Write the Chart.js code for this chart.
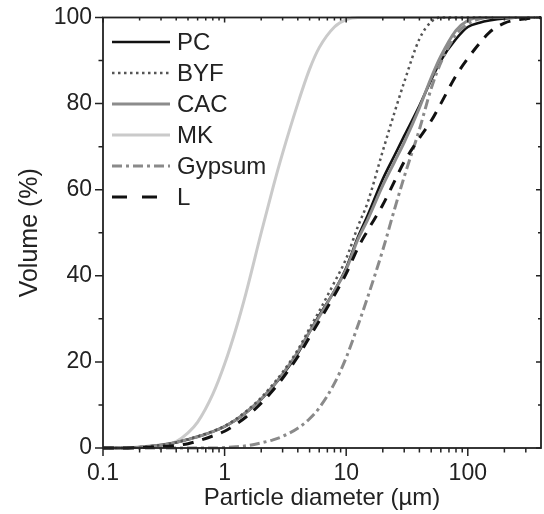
<!DOCTYPE html>
<html>
<head>
<meta charset="utf-8">
<script src="https://cdn.jsdelivr.net/npm/chart.js@4/dist/chart.umd.min.js"></script>
<style>
  html, body { margin: 0; padding: 0; background: #fff; }
  #wrap { width: 544px; height: 514px; }
</style>
</head>
<body>
<div id="wrap"><canvas id="psd"></canvas></div>
<script>
// particle diameter in um (x) and cumulative volume in % (y)
const sizes  = [0.1, 0.15, 0.2, 0.3, 0.4, 0.5, 0.6, 0.8, 1, 1.25, 1.5, 2, 2.5, 3, 4, 5, 6, 8, 10, 12.5, 15, 20, 25, 30, 40, 50, 60, 80, 100, 125, 150, 200, 300, 400];
const pc     = [0, 0, 0.2, 0.7, 1.3, 2.0, 2.6, 3.8, 5.0, 6.6, 8.2, 11.3, 14.3, 17.0, 22.0, 27.0, 30.8, 36.5, 41.8, 49.0, 54.0, 62.5, 68.0, 72.5, 79.5, 85.5, 90.0, 95.0, 97.8, 98.8, 99.3, 99.8, 100, 100];
const byf    = [0, 0, 0.2, 0.7, 1.3, 2.0, 2.7, 3.9, 5.1, 6.8, 8.5, 11.7, 14.8, 17.6, 22.8, 27.8, 31.8, 38.5, 44.0, 51.5, 57.0, 69.0, 78.0, 85.0, 95.0, 99.0, 100, 100, 100, 100, 100, 100, 100, 100];
const cac    = [0, 0, 0.2, 0.7, 1.3, 2.0, 2.6, 3.8, 5.0, 6.6, 8.3, 11.4, 14.4, 17.2, 22.3, 27.0, 30.5, 36.5, 41.5, 48.5, 53.0, 61.0, 66.5, 71.0, 79.0, 86.0, 91.0, 97.0, 99.3, 100, 100, 100, 100, 100];
const mk     = [0, 0, 0.1, 0.5, 1.5, 3.5, 6.0, 12.5, 19.5, 28.0, 36.0, 50.0, 60.5, 68.5, 80.0, 88.0, 93.0, 97.8, 99.5, 100, 100, 100, 100, 100, 100, 100, 100, 100, 100, 100, 100, 100, 100, 100];
const gypsum = [0, 0, 0, 0, 0, 0, 0, 0, 0.1, 0.3, 0.5, 1.2, 1.9, 2.7, 4.6, 6.8, 9.3, 15.0, 21.0, 28.5, 35.0, 46.0, 55.5, 63.0, 74.0, 83.5, 89.5, 96.0, 98.5, 99.7, 100, 100, 100, 100];
const lime   = [0, 0, 0.1, 0.3, 0.6, 1.0, 1.6, 2.8, 3.9, 5.6, 7.2, 10.4, 13.4, 16.2, 21.2, 25.8, 29.5, 35.5, 40.5, 46.5, 50.5, 56.5, 62.0, 66.5, 72.0, 76.0, 80.0, 86.5, 90.5, 94.0, 96.5, 98.7, 99.7, 100];

const seriesNames = ['PC', 'BYF', 'CAC', 'MK', 'Gypsum', 'L'];
const xMajor = [0.1, 1, 10, 100];
const xMinor = [0.2, 0.3, 0.4, 0.5, 0.6, 0.7, 0.8, 0.9, 2, 3, 4, 5, 6, 7, 8, 9, 20, 30, 40, 50, 60, 70, 80, 90, 200, 300];
const yMajor = [0, 20, 40, 60, 80, 100];
const yMinor = [10, 30, 50, 70, 90];

const FONT = "'Liberation Sans', Arial, Helvetica, sans-serif";
const INK = '#222';

function pts(vals) {
    return sizes.map((s, i) => ({ x: s, y: vals[i] }));
}

function ds(label, vals, color, width, dash, order) {
    return {
        label: label,
        data: pts(vals),
        borderColor: color,
        borderWidth: width,
        borderDash: dash,
        pointRadius: 0,
        showLine: true,
        fill: false,
        cubicInterpolationMode: 'monotone',
        clip: false,
        order: order
    };
}

const datasets = [
    ds(seriesNames[0], pc, '#111111', 2.6, [], 4),
    ds(seriesNames[1], byf, '#555555', 2.5, [2.5, 3.5], 2),
    ds(seriesNames[2], cac, '#8c8c8c', 3, [], 3),
    ds(seriesNames[3], mk, '#cacaca', 3, [], 5),
    ds(seriesNames[4], gypsum, '#8a8a8a', 3, [10, 4, 3, 4], 1),
    ds(seriesNames[5], lime, '#111111', 3, [11, 9], 0)
];

// frame + ticks drawn by hand so minor ticks can be shorter (top/right ones point inward)
const framePlugin = {
    id: 'frame',
    afterDraw(chart) {
        const ctx = chart.ctx;
        const a = chart.chartArea;
        const xs = chart.scales.x, ys = chart.scales.y;
        ctx.save();
        ctx.strokeStyle = INK;
        ctx.lineWidth = 1.8;
        ctx.strokeRect(a.left, a.top, a.right - a.left, a.bottom - a.top);
        ctx.lineWidth = 1.5;
        ctx.beginPath();
        xMajor.concat(xMinor).forEach(v => {
            const px = xs.getPixelForValue(v);
            const big = xMajor.includes(v);
            ctx.moveTo(px, a.bottom); ctx.lineTo(px, a.bottom + (big ? 8 : 4.5));
            ctx.moveTo(px, a.top); ctx.lineTo(px, a.top + (big ? 5 : 3));
        });
        yMajor.concat(yMinor).forEach(v => {
            const py = ys.getPixelForValue(v);
            const big = yMajor.includes(v);
            ctx.moveTo(a.left, py); ctx.lineTo(a.left - (big ? 8 : 4.5), py);
            ctx.moveTo(a.right, py); ctx.lineTo(a.right - (big ? 5 : 3), py);
        });
        ctx.stroke();
        ctx.restore();
    }
};

// legend in the upper left corner of the plot
const legendPlugin = {
    id: 'cornerLegend',
    afterDraw(chart) {
        const ctx = chart.ctx;
        const x0 = 112, x1 = 170, tx = 177, y0 = 42, step = 31;
        ctx.save();
        seriesNames.forEach((name, i) => {
            const d = chart.data.datasets[i];
            const y = y0 + i * step;
            ctx.strokeStyle = d.borderColor;
            ctx.lineWidth = d.borderWidth;
            ctx.setLineDash(name === 'L' ? [15, 15] : d.borderDash);
            ctx.beginPath();
            ctx.moveTo(x0, y); ctx.lineTo(x1, y);
            ctx.stroke();
            ctx.setLineDash([]);
            ctx.fillStyle = INK;
            ctx.font = '24px ' + FONT;
            ctx.textBaseline = 'middle';
            ctx.fillText(name, tx, y + 1);
        });
        ctx.restore();
    }
};

new Chart(document.getElementById('psd'), {
    type: 'scatter',
    data: { datasets: datasets },
    options: {
        responsive: true,
        maintainAspectRatio: false,
        animation: false,
        layout: { padding: { left: 15, top: 17.5, right: 3, bottom: 0 } },
        plugins: { legend: { display: false }, tooltip: { enabled: false } },
        scales: {
            x: {
                type: 'logarithmic',
                min: 0.1,
                max: 400,
                grid: { display: false, drawTicks: false },
                border: { display: false },
                afterBuildTicks: s => { s.ticks = xMajor.map(v => ({ value: v })); },
                afterFit: s => { s.height = 66; s.paddingLeft = 0; s.paddingRight = 0; },
                ticks: {
                    padding: 12,
                    maxRotation: 0,
                    color: INK,
                    font: { family: FONT, size: 23 },
                    callback: v => String(v)
                },
                title: {
                    display: true,
                    text: 'Particle diameter (µm)',
                    color: INK,
                    font: { family: FONT, size: 24 },
                    padding: { top: 0, bottom: 1 }
                }
            },
            y: {
                min: 0,
                max: 100,
                grid: { display: false, drawTicks: false },
                border: { display: false },
                afterBuildTicks: s => { s.ticks = yMajor.map(v => ({ value: v })); },
                // label overflow would push the plot down, the padding above is enough
                afterFit: s => { s.width = 88; s.paddingTop = 0; s.paddingBottom = 0; },
                ticks: {
                    padding: 11,
                    color: INK,
                    font: { family: FONT, size: 23 }
                },
                title: {
                    display: true,
                    text: 'Volume (%)',
                    color: INK,
                    font: { family: FONT, size: 25 },
                    padding: 0
                }
            }
        }
    },
    plugins: [framePlugin, legendPlugin]
});
</script>
</body>
</html>
